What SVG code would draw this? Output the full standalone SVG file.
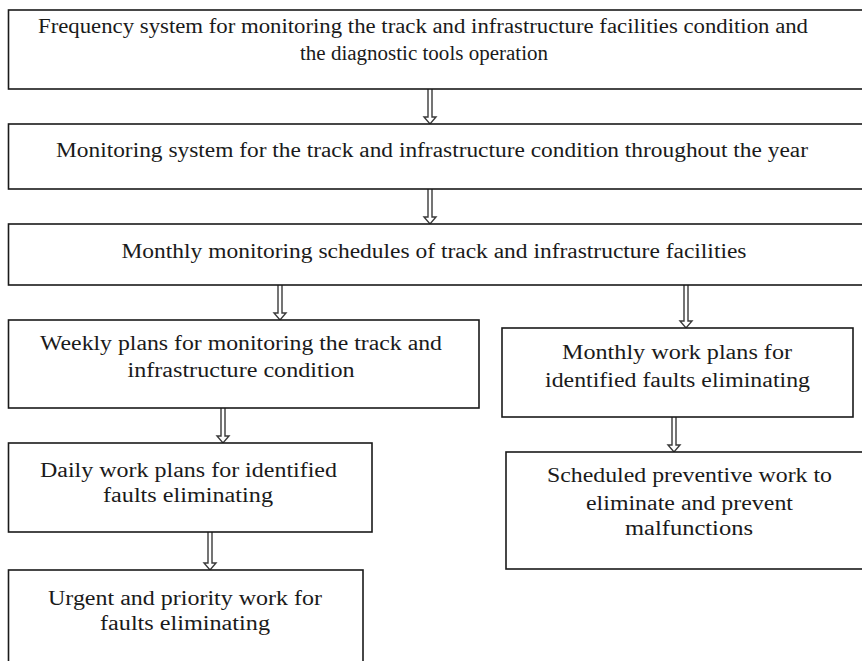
<svg xmlns="http://www.w3.org/2000/svg" width="862" height="661" viewBox="0 0 862 661">
<style>
.box{fill:#fff;stroke:#1a1a1a;stroke-width:1.6}
.t{font-family:"Liberation Serif","Times New Roman",serif;font-size:20px;fill:#1a1a1a;text-anchor:middle}
.arr{fill:#fff;stroke:#3a3a3a;stroke-width:1.4;stroke-linejoin:miter}
</style>
<rect width="862" height="661" fill="#fff"/>
<g id="connectors">
<path class="arr" d="M428,89 V117 H424 L430,124 L436,117 H432 V89"/>
<path class="arr" d="M428,189 V217 H424 L430,224 L436,217 H432 V189"/>
<path class="arr" d="M278,285 V313 H274 L280,320 L286,313 H282 V285"/>
<path class="arr" d="M684,285 V321 H680 L686,328 L692,321 H688 V285"/>
<path class="arr" d="M221,408 V436 H217 L223,443 L229,436 H225 V408"/>
<path class="arr" d="M208,532 V563 H204 L210,570 L216,563 H212 V532"/>
<path class="arr" d="M672,417 V445 H668 L674,452 L680,445 H676 V417"/>
</g>
<g id="n1">
<rect class="box" x="8.5" y="10" width="870" height="79"/>
<text class="t" x="423" y="33" textLength="770" lengthAdjust="spacingAndGlyphs">Frequency system for monitoring the track and infrastructure facilities condition and</text>
<text class="t" x="424" y="60" textLength="248" lengthAdjust="spacingAndGlyphs">the diagnostic tools operation</text>
</g>
<g id="n2">
<rect class="box" x="8.5" y="124" width="870" height="65"/>
<text class="t" x="432" y="157" textLength="752" lengthAdjust="spacingAndGlyphs">Monitoring system for the track and infrastructure condition throughout the year</text>
</g>
<g id="n3">
<rect class="box" x="8.5" y="224" width="870" height="61"/>
<text class="t" x="434" y="258" textLength="625" lengthAdjust="spacingAndGlyphs">Monthly monitoring schedules of track and infrastructure facilities</text>
</g>
<g id="n4">
<rect class="box" x="8.5" y="320" width="470.5" height="88"/>
<text class="t" x="241" y="350" textLength="402" lengthAdjust="spacingAndGlyphs">Weekly plans for monitoring the track and</text>
<text class="t" x="241" y="377" textLength="227" lengthAdjust="spacingAndGlyphs">infrastructure condition</text>
</g>
<g id="n5">
<rect class="box" x="8.5" y="443" width="363.5" height="89"/>
<text class="t" x="188.5" y="477" textLength="297" lengthAdjust="spacingAndGlyphs">Daily work plans for identified</text>
<text class="t" x="188" y="502" textLength="170" lengthAdjust="spacingAndGlyphs">faults eliminating</text>
</g>
<g id="n6">
<rect class="box" x="8.5" y="570" width="354.5" height="130"/>
<text class="t" x="185" y="605" textLength="274" lengthAdjust="spacingAndGlyphs">Urgent and priority work for</text>
<text class="t" x="185" y="630" textLength="170" lengthAdjust="spacingAndGlyphs">faults eliminating</text>
</g>
<g id="n7">
<rect class="box" x="502" y="328" width="351" height="89"/>
<text class="t" x="677" y="359" textLength="230" lengthAdjust="spacingAndGlyphs">Monthly work plans for</text>
<text class="t" x="677.5" y="387" textLength="265" lengthAdjust="spacingAndGlyphs">identified faults eliminating</text>
</g>
<g id="n8">
<rect class="box" x="506" y="452" width="370" height="117"/>
<text class="t" x="689.5" y="482" textLength="285" lengthAdjust="spacingAndGlyphs">Scheduled preventive work to</text>
<text class="t" x="689.5" y="510" textLength="207" lengthAdjust="spacingAndGlyphs">eliminate and prevent</text>
<text class="t" x="689" y="535" textLength="128" lengthAdjust="spacingAndGlyphs">malfunctions</text>
</g>
</svg>
